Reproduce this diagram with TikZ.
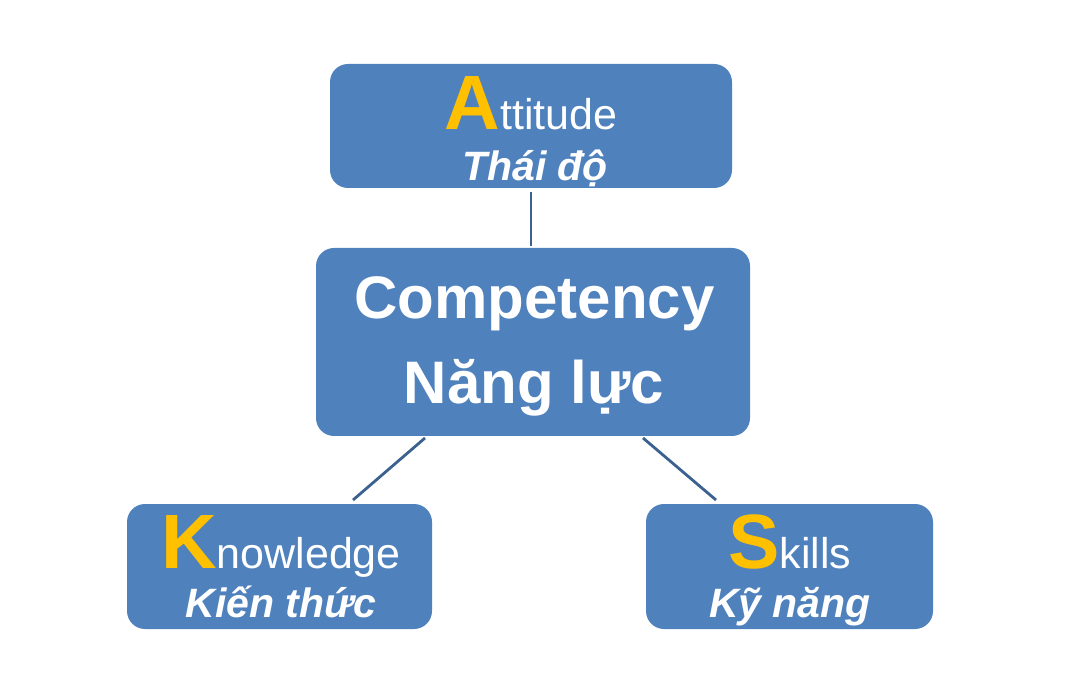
\documentclass[tikz,border=0pt]{standalone}
\usepackage{fontspec}
\setmainfont{Liberation Sans}
\definecolor{boxblue}{HTML}{4F81BD}
\definecolor{lineblue}{HTML}{3A6190}
\definecolor{accent}{HTML}{FFC000}
\tikzset{
  card/.style={draw=none, fill=boxblue, rounded corners=18pt, inner sep=0pt},
  link/.style={draw=lineblue, line width=2.8pt},
  txt/.style={anchor=base, inner sep=0pt, text=white},
}
\newcommand{\bigletter}[1]{{\fontsize{77}{80}\selectfont\bfseries\color{accent}#1}}
\newcommand{\restword}[1]{{\fontsize{43}{48}\selectfont #1}}
\newcommand{\vnword}[1]{{\fontsize{41}{46}\selectfont\bfseries\itshape #1}}
\begin{document}
\begin{tikzpicture}[x=1pt,y=-1pt]
\useasboundingbox (0,0) rectangle (1074,692);
% boxes
\node[card, minimum width=402pt, minimum height=124pt] (att) at (531,126) {};
\node[card, minimum width=434pt, minimum height=188pt] (comp) at (533,342) {};
\node[card, minimum width=305pt, minimum height=125pt] (know) at (279.5,566.5) {};
\node[card, minimum width=287pt, minimum height=125pt] (skill) at (789.5,566.5) {};
% connectors
\coordinate (a1) at (531,192); \coordinate (a2) at (531,246);
\coordinate (k1) at (425,438); \coordinate (k2) at (353,500);
\coordinate (s1) at (643,438); \coordinate (s2) at (716,500);
\draw[link] (a1) -- (a2);
\draw[link] (k1) -- (k2);
\draw[link] (s1) -- (s2);
% texts
\node[txt] (attT) at (531,130) {\bigletter{A}\restword{ttitude}};
\node[txt] (attV) at (535,181) {\vnword{Thái độ}};
\node[txt] (compT) at (534.5,319) {\fontsize{60}{64}\selectfont\bfseries Competency};
\node[txt] (compV) at (534,404) {\fontsize{60}{64}\selectfont\bfseries Năng lực};
\node[txt] (knowT) at (281,568) {\bigletter{K}\restword{nowledge}};
\node[txt] (knowV) at (281,617) {\vnword{Kiến thức}};
\node[txt] (skillT) at (790,568) {\bigletter{S}\restword{kills}};
\node[txt] (skillV) at (790,617) {\vnword{Kỹ năng}};
\end{tikzpicture}
\end{document}
